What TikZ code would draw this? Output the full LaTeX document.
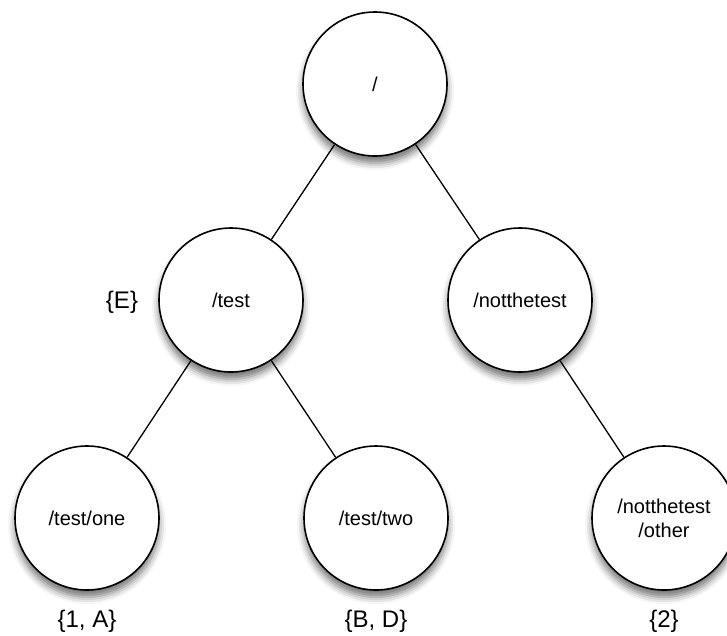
\documentclass[tikz,border=0pt]{standalone}
\usepackage{fontspec}
\setmainfont{Liberation Sans}
\usetikzlibrary{shadows.blur}
\begin{document}
\begin{tikzpicture}[x=1pt,y=-1pt,
  treenode/.style={circle, draw=black, line width=1.6pt, fill=white, minimum size=144pt, inner sep=0pt,
    font=\fontsize{20}{24}\selectfont, align=center,
    blur shadow={shadow xshift=0pt, shadow yshift=-7pt, shadow blur radius=7pt, shadow opacity=55}},
  setlabel/.style={font=\fontsize{24}{28}\selectfont, inner sep=0pt},
  edge/.style={line width=1.3pt, black}]
\useasboundingbox (0,0) rectangle (727,635);
\node[treenode] (root) at (375,84) {/};
\node[treenode] (test) at (231,300) {/test};
\node[treenode] (not) at (520,300) {/notthetest};
\node[treenode] (one) at (87,518) {/test/one};
\node[treenode] (two) at (376,518) {/test/two};
\node[treenode] (other) at (664,518) {/notthetest\\/other};
\draw[edge] (root) -- (test);
\draw[edge] (root) -- (not);
\draw[edge] (test) -- (one);
\draw[edge] (test) -- (two);
\draw[edge] (not) -- (other);
\node[setlabel] (lE) at (122,302) {\{E\}};
\node[setlabel] (l1A) at (87,621) {\{1, A\}};
\node[setlabel] (lBD) at (376,621) {\{B, D\}};
\node[setlabel] (l2) at (664,621) {\{2\}};
\end{tikzpicture}
\end{document}
